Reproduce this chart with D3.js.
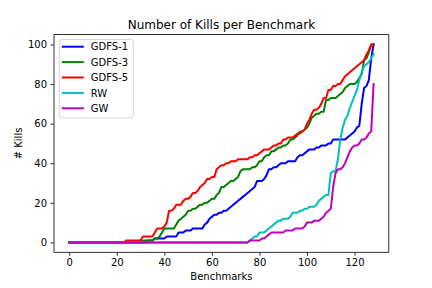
<!DOCTYPE html>
<html lang="en">
  <head>
    <meta charset="UTF-8" />
    <title>Number of Kills per Benchmark</title>
    <script src="https://d3js.org/d3.v7.min.js"></script>
    <style>
      body { margin: 0; background: #fff; }
      text { font-family: "DejaVu Sans", sans-serif; fill: #000; }
      .tick text { font-size: 10px; }
      .tick line { stroke: #000; stroke-width: 0.8; }
    </style>
  </head>
  <body>
    <div id="chart"></div>
    <script>
      // kills per benchmark, sorted ascending (benchmark index 0..128)
      const gdfs1 = [
        0,0,0,0,0,0,0,0,0,0,0,0,
        0,0,0,0,0,0,0,0,0,0,0,0,
        0,0,0,0,0,0,0,0,0,1,1,1,
        2,2,2,2,2,3,3,3,3,3,5,5,
        5,6,6,6,7,7,7,7,7,9,10,12,
        13,14,14,15,15,16,16,17,18,19,20,21,
        22,23,24,25,26,27,28,31,31,31,32,34,
        37,37,38,38,39,40,40,40,41,41,41,41,
        43,44,44,45,46,47,47,47,48,48,49,49,
        49,50,50,52,52,52,52,52,52,53,54,55,
        56,58,59,70,78,79,82,93,100
      ];
      const gdfs3 = [
        0,0,0,0,0,0,0,0,0,0,0,0,
        0,0,0,0,0,0,0,0,0,0,0,0,
        0,0,0,0,0,0,0,1,1,1,1,1,
        2,2,3,5,7,7,7,7,7,9,11,12,
        13,14,16,16,17,17,18,19,19,20,20,21,
        22,22,24,25,28,28,29,30,31,31,32,33,
        36,37,37,37,37,38,38,39,41,41,43,44,
        44,46,46,47,48,48,49,49,50,52,52,53,
        54,56,56,57,58,60,63,64,65,65,66,66,
        72,72,73,73,73,74,75,76,78,79,80,80,
        80,81,83,85,92,93,96,100,100
      ];
      const gdfs5 = [
        0,0,0,0,0,0,0,0,0,0,0,0,
        0,0,0,0,0,0,0,0,0,0,0,0,
        1,1,1,1,1,1,1,3,3,3,3,3,
        5,7,7,7,8,10,16,16,17,19,19,19,
        21,22,22,23,25,25,26,28,29,30,32,32,
        33,33,37,38,39,39,40,40,41,41,41,42,
        42,42,42,42,43,43,44,44,45,46,47,47,
        47,48,49,49,50,50,52,52,53,53,53,54,
        55,55,56,57,60,62,65,67,67,68,70,73,
        73,77,77,79,79,80,80,82,84,85,86,87,
        88,89,90,91,92,95,97,100,100
      ];
      const rw = [
        0,0,0,0,0,0,0,0,0,0,0,0,
        0,0,0,0,0,0,0,0,0,0,0,0,
        0,0,0,0,0,0,0,0,0,0,0,0,
        0,0,0,0,0,0,0,0,0,0,0,0,
        0,0,0,0,0,0,0,0,0,0,0,0,
        0,0,0,0,0,0,0,0,0,0,0,0,
        0,0,0,0,1,2,3,3,5,5,5,6,
        7,8,9,10,11,11,12,12,12,13,15,15,
        15,16,16,17,17,18,18,18,19,21,22,23,
        24,24,35,36,36,42,52,58,62,64,68,71,
        74,77,82,86,89,90,91,93,95
      ];
      const gw = [
        0,0,0,0,0,0,0,0,0,0,0,0,
        0,0,0,0,0,0,0,0,0,0,0,0,
        0,0,0,0,0,0,0,0,0,0,0,0,
        0,0,0,0,0,0,0,0,0,0,0,0,
        0,0,0,0,0,0,0,0,0,0,0,0,
        0,0,0,0,0,0,0,0,0,0,0,0,
        0,0,0,0,1,1,1,1,1,2,2,3,
        4,5,5,5,5,5,5,6,6,6,6,7,
        7,7,7,8,10,10,10,11,11,11,12,13,
        15,16,17,28,35,37,37,38,40,43,46,48,
        49,49,50,52,52,53,55,56,80
      ];
      const seriesNames = ["GDFS-1", "GDFS-3", "GDFS-5", "RW", "GW"];
      const seriesColors = ["#0000ff", "#008000", "#ff0000", "#00bfbf", "#bf00bf"];
      const xTicks = [0, 20, 40, 60, 80, 100, 120];
      const yTicks = [0, 20, 40, 60, 80, 100];

      const series = [gdfs1, gdfs3, gdfs5, rw, gw].map((values, i) => ({
        name: seriesNames[i],
        color: seriesColors[i],
        values: values,
      }));

      const width = 432;
      const height = 288;
      const plotLeft = 54, plotRight = 388.8, plotTop = 34.6, plotBottom = 252.3;

      const x = d3.scaleLinear().domain([-6.4, 134.4]).range([plotLeft, plotRight]);
      const y = d3.scaleLinear().domain([-5, 105]).range([plotBottom, plotTop]);

      const svg = d3
        .select("#chart")
        .append("svg")
        .attr("width", width)
        .attr("height", height);

      // lines
      const line = d3
        .line()
        .x((d, i) => x(i))
        .y((d) => y(d));

      svg
        .append("g")
        .selectAll("path")
        .data(series)
        .enter()
        .append("path")
        .attr("d", (d) => line(d.values))
        .attr("fill", "none")
        .attr("stroke", (d) => d.color)
        .attr("stroke-width", 2)
        .attr("stroke-linejoin", "round")
        .attr("stroke-linecap", "square");

      // axes
      const xAxis = svg
        .append("g")
        .attr("transform", `translate(0,${plotBottom})`)
        .call(d3.axisBottom(x).tickValues(xTicks).tickSize(3.5).tickPadding(3.5));
      xAxis.select(".domain").remove();

      const yAxis = svg
        .append("g")
        .attr("transform", `translate(${plotLeft},0)`)
        .call(d3.axisLeft(y).tickValues(yTicks).tickSize(3.5).tickPadding(3.5));
      yAxis.select(".domain").remove();
      svg.selectAll(".tick text").attr("font-family", "DejaVu Sans");

      // frame
      svg
        .append("rect")
        .attr("x", plotLeft)
        .attr("y", plotTop)
        .attr("width", plotRight - plotLeft)
        .attr("height", plotBottom - plotTop)
        .attr("fill", "none")
        .attr("stroke", "#000")
        .attr("stroke-width", 0.8);

      // title and labels
      svg
        .append("text")
        .attr("x", (plotLeft + plotRight) / 2)
        .attr("y", 28.5)
        .attr("text-anchor", "middle")
        .attr("font-size", 12)
        .text("Number of Kills per Benchmark");

      svg
        .append("text")
        .attr("x", (plotLeft + plotRight) / 2)
        .attr("y", 280)
        .attr("text-anchor", "middle")
        .attr("font-size", 10)
        .text("Benchmarks");

      svg
        .append("text")
        .attr("transform", `translate(22,${(plotTop + plotBottom) / 2}) rotate(-90)`)
        .attr("text-anchor", "middle")
        .attr("font-size", 10)
        .text("# Kills");

      // legend
      const legend = svg.append("g").attr("transform", "translate(59.3,39.5)");
      legend
        .append("rect")
        .attr("width", 74)
        .attr("height", 78.5)
        .attr("rx", 2)
        .attr("fill", "#fff")
        .attr("fill-opacity", 0.8)
        .attr("stroke", "#cccccc")
        .attr("stroke-width", 0.8);

      const items = legend
        .selectAll(".legend-item")
        .data(series)
        .enter()
        .append("g")
        .attr("class", "legend-item")
        .attr("transform", (d, i) => `translate(0,${7.2 + i * 15.4})`);

      items
        .append("line")
        .attr("x1", 3.5)
        .attr("x2", 23.5)
        .attr("stroke", (d) => d.color)
        .attr("stroke-width", 2)
        .attr("stroke-linecap", "square");

      items
        .append("text")
        .attr("x", 31.5)
        .attr("y", 3.6)
        .attr("font-size", 10)
        .text((d) => d.name);
    </script>
  </body>
</html>
